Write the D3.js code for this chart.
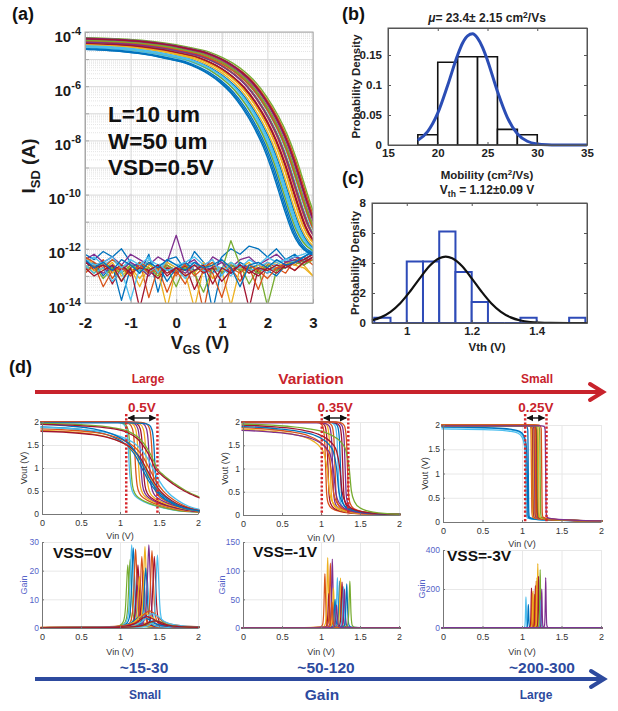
<!DOCTYPE html>
<html>
<head>
<meta charset="utf-8">
<script src="https://cdn.jsdelivr.net/npm/d3@7"></script>
<style>
  body { margin: 0; background: #fff; }
  svg { display: block; }
</style>
</head>
<body>
<svg id="fig" width="618" height="711"></svg>
<script>
// MATLAB default line colours
const colors = ["#0072BD", "#D95319", "#EDB120", "#7E2F8E", "#77AC30", "#4DBEEE", "#A2142F"];

// (a) transfer curves: shape of the middle of the bundle (VGS, log10 I), each device shifted
const idTemplate = [[-2.5,-4.4],[-2,-4.42],[-1.5,-4.45],[-1,-4.5],[-0.5,-4.6],[0,-4.75],[0.5,-4.95],[1,-5.35],[1.25,-5.65],[1.5,-6.05],[1.75,-6.6],[2,-7.3],[2.2,-8.0],[2.4,-8.9],[2.55,-9.7],[2.7,-10.5],[2.85,-11.2],[3,-11.65],[3.2,-11.95],[3.5,-12.1]];
const idShiftV   = [-0.27,0.22,-0.06,0.12,0.24,-0.18,0.06,-0.12,0.14,0.0,0.18,-0.22,0.1,-0.02,-0.3,0.02,-0.1,0.17,0.07,-0.14,0.19,-0.24,0.12,-0.05,0.05,0.14,-0.17,0.0];
const idShiftLog = [-0.2,0.15,0.0,0.1,0.2,-0.15,0.05,-0.1,0.12,-0.05,0.18,-0.1,0.08,0.0,-0.2,0.1,-0.05,0.14,0.02,-0.12,0.16,-0.18,0.06,-0.02,0.04,0.1,-0.08,0.0];

// (a) off-state noise floor, log10 I at these VGS
const noiseVgs = [-2,-1.8,-1.6,-1.4,-1.2,-1,-0.8,-0.6,-0.4,-0.2,0,0.2,0.4,0.6,0.8,1,1.2,1.4,1.6,1.8,2,2.2,2.4,2.6,2.8,3];
const noiseLog = [
  [-12.2,-12.4,-12.1,-12.3,-12.0,-12.5,-12.9,-12.2,-13.6,-12.4,-12.3,-12.8,-12.1,-12.5,-12.9,-12.3,-12.0,-12.2,-11.9,-12.0,-12.3,-12.0,-12.4,-12.2,-12.5,-12.1],
  [-12.5,-12.7,-12.4,-13.1,-12.6,-12.9,-12.5,-13.8,-12.7,-12.6,-13.0,-12.5,-12.8,-14.3,-12.6,-12.9,-12.7,-13.2,-12.6,-12.8,-12.5,-12.7,-12.9,-12.4,-12.3,-12.6],
  [-12.3,-12.6,-12.8,-12.5,-13.0,-12.7,-13.4,-12.6,-12.8,-14.2,-12.7,-12.6,-12.9,-12.5,-13.1,-12.8,-14.1,-12.7,-12.5,-12.9,-12.6,-12.5,-12.7,-12.4,-12.6,-13.0],
  [-12.4,-12.2,-12.5,-12.3,-12.6,-12.2,-12.4,-12.6,-12.3,-12.5,-11.5,-12.6,-12.4,-12.8,-12.3,-12.5,-12.7,-12.4,-12.3,-12.6,-12.4,-12.2,-12.5,-12.3,-12.4,-12.2],
  [-12.6,-12.9,-12.5,-12.7,-13.2,-12.6,-12.8,-12.5,-12.9,-12.7,-13.4,-12.6,-12.8,-12.7,-12.5,-12.8,-11.7,-12.6,-13.3,-12.7,-14.1,-12.8,-12.6,-12.4,-12.5,-12.3],
  [-12.5,-12.3,-12.6,-12.4,-12.7,-12.5,-12.8,-12.4,-12.6,-12.5,-12.7,-12.6,-12.5,-12.8,-12.6,-12.7,-12.5,-12.8,-12.6,-12.7,-12.5,-12.6,-12.4,-12.5,-12.3,-12.0],
  [-12.4,-12.8,-12.6,-13.3,-12.7,-12.9,-12.6,-12.8,-13.1,-12.7,-12.9,-12.6,-13.5,-12.8,-12.7,-12.9,-12.6,-12.8,-14.2,-12.7,-12.9,-12.6,-12.7,-12.5,-12.4,-12.2],
  [-12.7,-12.5,-13.0,-12.6,-13.9,-12.7,-12.5,-12.9,-12.6,-13.2,-12.7,-12.5,-12.8,-12.6,-14.3,-12.7,-12.9,-12.5,-12.7,-12.6,-12.8,-13.0,-12.6,-12.5,-12.3,-12.1],
  [-12.3,-12.5,-12.7,-12.4,-12.6,-13.0,-12.5,-12.7,-12.9,-12.6,-12.8,-13.3,-12.6,-12.7,-12.5,-12.9,-12.6,-12.8,-12.7,-13.5,-12.6,-12.8,-12.5,-12.6,-12.4,-12.2],
  [-12.6,-12.8,-12.5,-12.9,-12.6,-12.7,-13.1,-12.6,-12.8,-12.5,-12.7,-12.9,-14.2,-12.7,-12.6,-12.8,-12.5,-12.7,-12.9,-12.6,-12.8,-12.7,-12.5,-12.6,-12.7,-13.0],
  [-12.5,-12.7,-12.9,-12.6,-12.8,-12.5,-12.7,-13.0,-12.6,-12.8,-12.7,-12.9,-12.6,-12.8,-12.7,-12.5,-12.9,-12.6,-12.7,-12.9,-12.6,-12.8,-12.5,-12.4,-12.6,-12.3],
  [-12.8,-12.6,-13.1,-12.7,-12.9,-12.6,-12.8,-12.7,-13.0,-12.6,-12.8,-12.7,-12.9,-13.6,-12.7,-12.9,-12.6,-12.8,-12.7,-12.9,-12.6,-12.8,-12.7,-12.5,-12.6,-12.4],
  [-12.6,-12.9,-12.7,-13.2,-12.8,-13.9,-12.7,-12.9,-12.6,-12.8,-12.7,-13.1,-12.6,-12.8,-12.9,-12.7,-13.0,-12.6,-12.8,-12.7,-12.9,-12.6,-12.7,-12.5,-12.4,-12.2],
  [-12.5,-12.7,-12.6,-12.8,-12.6,-12.9,-12.7,-12.8,-12.6,-13.0,-12.7,-12.8,-12.6,-12.9,-12.7,-13.2,-12.8,-12.6,-12.9,-12.7,-12.8,-12.6,-12.7,-12.5,-12.4,-12.2],
  [-12.9,-12.6,-13.4,-12.8,-12.7,-13.0,-12.6,-12.9,-12.7,-13.6,-12.8,-12.6,-13.0,-12.7,-12.9,-13.8,-12.7,-12.9,-12.6,-12.8,-13.1,-12.7,-12.6,-12.8,-12.5,-12.4],
  [-12.4,-12.6,-12.5,-12.3,-12.7,-12.4,-12.6,-12.3,-12.9,-12.4,-12.6,-12.5,-12.3,-12.6,-12.4,-13.0,-12.5,-12.7,-12.4,-12.6,-12.3,-12.5,-12.4,-12.3,-12.2,-12.0],
  [-12.7,-13.0,-12.8,-12.6,-13.2,-12.7,-14.2,-12.8,-12.6,-12.9,-12.7,-13.0,-12.8,-12.6,-13.3,-12.7,-12.9,-12.6,-12.8,-13.0,-12.7,-12.9,-12.6,-12.8,-12.5,-12.3],
  [-12.4,-12.7,-12.5,-12.8,-12.4,-12.6,-12.9,-12.5,-12.7,-12.4,-12.6,-12.8,-12.5,-12.7,-12.6,-12.4,-12.7,-13.4,-12.6,-12.5,-12.7,-12.4,-12.6,-12.5,-12.3,-12.1]
];
const noiseColor = [0,1,2,3,4,5,6,0,1,2,3,4,5,6,1,5,6,0];

// (b) mobility histogram + fit
const mobBinEdges = [18,20,22,24,26,28,30];
const mobDensity = [0.017,0.138,0.147,0.147,0.026,0.017];
const mobFitX = [18,19,20,21,22,22.5,23,23.5,24,24.5,25,26,27,28,29,30,31,32,35];
const mobFitY = [0.0079,0.0228,0.0531,0.0995,0.150,0.170,0.182,0.1853,0.178,0.1627,0.141,0.0893,0.0457,0.0188,0.0062,0.0017,0.0004,0.0001,0];

// (c) threshold histogram + fit
const vthBinEdges = [0.9,0.95,1.0,1.05,1.1,1.15,1.2,1.25,1.3,1.35,1.4,1.45,1.5,1.55];
const vthDensity = [0.35,0,4.1,4.1,6.1,3.4,1.4,0,0,0.35,0,0,0.35];
const vthFitX = [0.893,0.92,0.95,0.98,1.01,1.04,1.07,1.10,1.12,1.14,1.17,1.20,1.23,1.26,1.29,1.32,1.35,1.38,1.41,1.44,1.50,1.555];
const vthFitY = [0.18,0.375,0.744,1.32,2.10,2.98,3.80,4.32,4.43,4.32,3.80,2.98,2.10,1.32,0.744,0.375,0.169,0.068,0.025,0.008,0.0005,0];

// (d) inverter transfer shapes (Vin, Vout), their switching point and high level
const vtcShapes = [
  [[-1,2],[0.9,2],[1.1,1.99],[1.17,1.96],[1.21,1.85],[1.235,1.5],[1.25,1.0],[1.27,0.62],[1.3,0.45],[1.36,0.34],[1.45,0.26],[1.6,0.17],[1.8,0.09],[2.0,0.05],[3,0]],
  [[-1,1.92],[0,1.9],[0.4,1.87],[0.7,1.82],[0.9,1.75],[1.05,1.66],[1.15,1.57],[1.25,1.42],[1.32,1.26],[1.4,1.0],[1.48,0.74],[1.58,0.5],[1.72,0.3],[1.86,0.17],[2.0,0.1],[2.5,0.02],[3,0]],
  [[-1,1.98],[0,1.97],[0.5,1.94],[0.9,1.88],[1.1,1.8],[1.25,1.64],[1.35,1.42],[1.42,1.2],[1.47,1.0],[1.55,0.86],[1.7,0.66],[1.85,0.5],[2.0,0.38],[2.5,0.12],[3,0.03]],
  [[-1,2],[1.05,2],[1.12,1.98],[1.16,1.92],[1.185,1.65],[1.2,1.0],[1.213,0.45],[1.235,0.24],[1.28,0.14],[1.4,0.07],[1.6,0.03],[2,0.01],[3,0]],
  [[-1,1.92],[0,1.9],[0.4,1.86],[0.7,1.8],[0.9,1.72],[1.02,1.62],[1.1,1.5],[1.15,1.35],[1.19,1.0],[1.22,0.5],[1.26,0.28],[1.33,0.15],[1.5,0.06],[1.8,0.02],[3,0]],
  [[-1,2],[1.1,2],[1.13,1.99],[1.143,1.92],[1.15,1.0],[1.156,0.2],[1.165,0.1],[1.22,0.07],[1.5,0.04],[2,0.02],[3,0.01]],
  [[-1,1.95],[0,1.93],[0.6,1.91],[0.85,1.88],[0.95,1.84],[1.0,1.76],[1.03,1.6],[1.045,1.2],[1.05,0.6],[1.056,0.14],[1.07,0.08],[1.2,0.05],[1.5,0.035],[2,0.02],[3,0.01]]
];
const vtcShapeVm = [1.25,1.4,1.47,1.2,1.19,1.15,1.05];
const vtcShapeTop = [2,1.9,1.97,2,1.9,2,1.93];

// VSS = 0 V
const vtc0Shape = [0,0,0,0,0,0,0,0,0,0,1,1,1,1,1,1,2,2];
const vtc0Vm    = [1.12,1.14,1.2,1.24,1.27,1.3,1.34,1.38,1.42,1.45,1.28,1.33,1.38,1.42,1.35,1.3,1.47,1.45];
const vtc0Top   = [2,2,2,2,2,2,1.99,2,2,1.98,1.9,1.82,1.85,1.88,1.8,1.95,1.97,1.95];
const vtc0Color = [5,4,1,2,3,6,2,3,1,0,0,2,1,5,6,0,4,6];
// VSS = -1 V
const vtc1Shape = [3,3,3,3,3,3,3,3,3,3,4,4,4,4,4,4];
const vtc1Vm    = [1.06,1.09,1.12,1.15,1.18,1.22,1.25,1.28,1.31,1.34,1.08,1.13,1.16,1.2,1.24,1.36];
const vtc1Top   = [2,2,2,1.98,2,2,2,1.99,2,2,1.85,1.88,1.82,1.9,1.93,1.95];
const vtc1Color = [1,6,2,3,1,5,0,6,3,1,2,1,3,0,6,4];
// VSS = -3 V
const vtc2Shape = [6,6,6,5,5,5,5,5,5,5,5,5,5,5,5,5,5];
const vtc2Vm    = [1.05,1.06,1.07,1.08,1.12,1.13,1.14,1.15,1.16,1.17,1.18,1.19,1.2,1.21,1.23,1.25,1.3];
const vtc2Top   = [1.92,1.95,1.96,1.98,2,1.99,2,2,1.98,2,1.99,2,1.98,2,1.99,2,1.98];
const vtc2Color = [5,5,0,0,1,2,6,2,3,1,1,6,4,2,4,1,3];

// gain peak shapes (offset from peak, fraction of peak)
const gainShapes = [
  [[-2,0.004],[-0.4,0.008],[-0.15,0.02],[-0.08,0.06],[-0.05,0.13],[-0.03,0.32],[-0.015,0.68],[0,1],[0.015,0.68],[0.03,0.32],[0.05,0.13],[0.08,0.06],[0.15,0.03],[0.4,0.01],[2,0.004]],
  [[-2,0.02],[-0.6,0.06],[-0.3,0.15],[-0.15,0.4],[-0.07,0.8],[0,1],[0.07,0.8],[0.15,0.45],[0.3,0.2],[0.6,0.08],[2,0.03]],
  [[-2,0.002],[-0.3,0.004],[-0.06,0.015],[-0.03,0.06],[-0.015,0.3],[-0.007,0.7],[0,1],[0.007,0.7],[0.015,0.3],[0.03,0.06],[0.06,0.015],[0.3,0.004],[2,0.002]],
  [[-2,0.001],[-0.2,0.002],[-0.03,0.01],[-0.015,0.05],[-0.008,0.3],[-0.004,0.7],[0,1],[0.004,0.7],[0.008,0.3],[0.015,0.05],[0.03,0.01],[0.2,0.002],[2,0.001]]
];
const gain0Shape = [0,0,0,0,0,0,0,0,0,0,0,0,0,0,0,0,0,1,1,1,1,1,1,1];
const gain0Pos   = [1.10,1.13,1.15,1.17,1.20,1.22,1.23,1.25,1.28,1.30,1.32,1.33,1.35,1.37,1.41,1.44,1.48,1.28,1.33,1.38,1.42,1.35,1.47,1.45];
const gain0Peak  = [22,24,29,28,27.5,15,22,18,25,20,28.4,21,17,29,27,25,25.5,4,5,6,5,4,2.5,2.5];
const gain0Color = [4,4,5,0,1,3,6,2,1,6,2,0,5,3,1,6,5,0,2,1,5,6,4,6];
const gain1Shape = [2,2,2,2,2,2,2,2,2,2,2,2,2,2,2,2,2];
const gain1Pos   = [1.05,1.086,1.10,1.12,1.145,1.16,1.18,1.21,1.24,1.25,1.27,1.29,1.30,1.33,1.37,1.14,1.20];
const gain1Peak  = [95,123,60,113,120,70,50,88,82,87,80,72,68,77,82,45,40];
const gain1Color = [1,2,6,1,3,2,0,5,0,2,6,5,3,0,4,1,3];
const gain2Shape = [3,3,3,3,3,3,3,3,3,3,3,3,3,3,3];
const gain2Pos   = [1.05,1.08,1.12,1.13,1.14,1.16,1.17,1.18,1.19,1.20,1.21,1.23,1.24,1.25,1.30];
const gain2Peak  = [160,120,205,180,190,172,218,240,258,330,265,300,145,200,258];
const gain2Color = [5,0,6,1,2,1,6,1,2,2,6,4,5,3,3];

const vinTicks = [0,0.5,1,1.5,2];
const spreadLo = [1.08,1.01,1.04];
const spreadHi = [1.48,1.35,1.31];
const spreadText = ["0.5V","0.35V","0.25V"];
const vssText = ["VSS=0V","VSS=-1V","VSS=-3V"];

const FONT = "'Liberation Sans', Arial, Helvetica, sans-serif";
const red = "#C8232C", blue = "#2D4A9E";
const svg = d3.select("#fig").attr("font-family", FONT);
svg.append("rect").attr("width", 618).attr("height", 711).attr("fill", "#fff");

const defs = svg.append("defs");
defs.append("marker").attr("id", "tip").attr("viewBox", "0 0 10 10").attr("refX", 9).attr("refY", 5)
  .attr("markerWidth", 5).attr("markerHeight", 5).attr("orient", "auto-start-reverse")
  .append("path").attr("d", "M0,0L10,5L0,10Z").attr("fill", "#111");

let clipN = 0;
function clipTo(box, pad) {
  const id = "clip" + (clipN++);
  defs.append("clipPath").attr("id", id).append("rect")
    .attr("x", box.l - pad).attr("y", box.t - pad)
    .attr("width", box.r - box.l + 2 * pad).attr("height", box.b - box.t + 2 * pad);
  return `url(#${id})`;
}

function styleAxis(sel, stroke, size, weight, fill) {
  sel.attr("font-family", FONT);
  sel.select(".domain").attr("stroke", stroke);
  sel.selectAll(".tick line").attr("stroke", stroke);
  sel.selectAll(".tick text").attr("font-size", size).attr("font-weight", weight).attr("fill", fill);
}

function gridOnly(sel, color, dash) {
  sel.select(".domain").remove();
  sel.selectAll("line").attr("stroke", color).attr("stroke-dasharray", dash || null);
}

// ---------------- (a) ----------------
const aBox = { l: 85, r: 313, t: 32, b: 303 };
const xA = d3.scaleLinear().domain([-2, 3]).range([aBox.l, aBox.r]);
const yA = d3.scaleLog().domain([1e-14, 1e-4]).range([aBox.b, aBox.t]);
const gA = svg.append("g");
const minorA = [];
for (let e = -14; e < -4; e++) for (let m = 2; m <= 9; m++) minorA.push(m * 10 ** e);
const decades = d3.range(-14, -3).map(e => 10 ** e);

gA.append("g").attr("transform", `translate(${aBox.l},0)`)
  .call(d3.axisLeft(yA).tickValues(minorA).tickSize(-(aBox.r - aBox.l)).tickFormat(""))
  .call(s => gridOnly(s, "#e4e4e4", "1,1"));
gA.append("g").attr("transform", `translate(${aBox.l},0)`)
  .call(d3.axisLeft(yA).tickValues(decades).tickSize(-(aBox.r - aBox.l)).tickFormat(""))
  .call(s => gridOnly(s, "#d8d8d8"));
gA.append("g").attr("transform", `translate(0,${aBox.b})`)
  .call(d3.axisBottom(xA).ticks(5).tickSize(-(aBox.b - aBox.t)).tickFormat(""))
  .call(s => gridOnly(s, "#d8d8d8"));

const clipA = clipTo(aBox, 0);
const noiseLine = d3.line().x(d => xA(d[0])).y(d => yA(10 ** d[1]));
const lineA = d3.line().x(d => xA(d[0])).y(d => yA(10 ** d[1])).curve(d3.curveMonotoneX);
noiseLog.forEach((row, i) => {
  gA.append("path").attr("clip-path", clipA)
    .attr("d", noiseLine(row.map((v, j) => [noiseVgs[j], v])))
    .attr("fill", "none").attr("stroke", colors[noiseColor[i]]).attr("stroke-width", 1.3)
    .attr("stroke-linejoin", "round");
});
idShiftV.forEach((dv, i) => {
  gA.append("path").attr("clip-path", clipA)
    .attr("d", lineA(idTemplate.map(([v, l]) => [v + dv, l + idShiftLog[i]])))
    .attr("fill", "none").attr("stroke", colors[i % 7]).attr("stroke-width", 1.4);
});

gA.append("rect").attr("x", aBox.l).attr("y", aBox.t).attr("width", aBox.r - aBox.l).attr("height", aBox.b - aBox.t)
  .attr("fill", "none").attr("stroke", "#a8a8a8");
gA.append("g").attr("transform", `translate(0,${aBox.b})`)
  .call(d3.axisBottom(xA).ticks(5).tickSize(-4).tickSizeOuter(0).tickPadding(14).tickFormat(d => d))
  .call(s => styleAxis(s, "#a8a8a8", 15, "bold", "#1a1a1a"));
gA.append("g").attr("transform", `translate(${aBox.l},0)`)
  .call(d3.axisLeft(yA).tickValues(decades).tickSize(-4).tickSizeOuter(0).tickFormat(""))
  .call(s => styleAxis(s, "#a8a8a8", 15, "bold", "#1a1a1a"));
[-4, -6, -8, -10, -12, -14].forEach(e => {
  const t = gA.append("text").attr("x", aBox.l - 4).attr("y", yA(10 ** e) + 9.5)
    .attr("text-anchor", "end").attr("font-weight", "bold").attr("font-size", 15).attr("fill", "#1a1a1a");
  t.append("tspan").text("10");
  t.append("tspan").attr("dy", -7).attr("font-size", 11).text(e);
});
const ylabA = gA.append("text").attr("transform", `translate(35,166) rotate(-90)`)
  .attr("text-anchor", "middle").attr("font-weight", "bold").attr("font-size", 19).attr("fill", "#1a1a1a");
ylabA.append("tspan").text("I");
ylabA.append("tspan").attr("font-size", 13).attr("dy", 5).text("SD");
ylabA.append("tspan").attr("dy", -5).text(" (A)");
const xlabA = gA.append("text").attr("x", 200).attr("y", 349)
  .attr("text-anchor", "middle").attr("font-weight", "bold").attr("font-size", 18).attr("fill", "#1a1a1a");
xlabA.append("tspan").text("V");
xlabA.append("tspan").attr("font-size", 12).attr("dy", 5).text("GS");
xlabA.append("tspan").attr("dy", -5).text(" (V)");
["L=10 um", "W=50 um", "VSD=0.5V"].forEach((s, i) => {
  gA.append("text").attr("x", 108).attr("y", 122 + i * 26.5).attr("font-weight", "bold")
    .attr("font-size", 22.5).attr("fill", "#111").text(s);
});

// panel letters
[["(a)", 12, 20], ["(b)", 342, 20], ["(c)", 342, 184], ["(d)", 9, 373]].forEach(([s, x, y]) => {
  svg.append("text").attr("x", x).attr("y", y).attr("font-weight", "bold").attr("font-size", 18).attr("fill", "#111").text(s);
});

// boxed MATLAB axes for (b), (c)
function boxAxes(g, box, x, y, xt, yt) {
  g.append("rect").attr("x", box.l).attr("y", box.t).attr("width", box.r - box.l).attr("height", box.b - box.t)
    .attr("fill", "none").attr("stroke", "#555");
  g.append("g").attr("transform", `translate(0,${box.b})`)
    .call(d3.axisBottom(x).tickValues(xt).tickSize(-3).tickSizeOuter(0).tickPadding(4).tickFormat(d => d))
    .call(s => styleAxis(s, "#555", 11.5, "bold", "#222"));
  g.append("g").attr("transform", `translate(0,${box.t})`)
    .call(d3.axisTop(x).tickValues(xt).tickSize(-3).tickSizeOuter(0).tickFormat(""))
    .call(s => styleAxis(s, "#555", 11.5, "bold", "#222"));
  g.append("g").attr("transform", `translate(${box.l},0)`)
    .call(d3.axisLeft(y).tickValues(yt).tickSize(-3).tickSizeOuter(0).tickPadding(6).tickFormat(d => d))
    .call(s => styleAxis(s, "#555", 11.5, "bold", "#222"));
  g.append("g").attr("transform", `translate(${box.r},0)`)
    .call(d3.axisRight(y).tickValues(yt).tickSize(-3).tickSizeOuter(0).tickFormat(""))
    .call(s => styleAxis(s, "#555", 11.5, "bold", "#222"));
}

// ---------------- (b) ----------------
const bBox = { l: 388, r: 587, t: 28, b: 145 };
const xB = d3.scaleLinear().domain([15, 35]).range([bBox.l, bBox.r]);
const yB = d3.scaleLinear().domain([0, 0.195]).range([bBox.b, bBox.t]);
const gB = svg.append("g");
mobDensity.forEach((d, i) => {
  const x0 = xB(mobBinEdges[i]), x1 = xB(mobBinEdges[i + 1]);
  gB.append("path").attr("d", `M${x0},${yB(0)}V${yB(d)}H${x1}V${yB(0)}Z`)
    .attr("fill", "#fff").attr("stroke", "#111").attr("stroke-width", 1.6);
});
gB.append("path").attr("d", d3.line().x(d => xB(d[0])).y(d => yB(d[1])).curve(d3.curveMonotoneX)(mobFitX.map((v, i) => [v, mobFitY[i]])))
  .attr("fill", "none").attr("stroke", "#2B4DB5").attr("stroke-width", 3);
boxAxes(gB, bBox, xB, yB, [15, 20, 25, 30, 35], [0, 0.05, 0.1, 0.15]);
gB.append("text").attr("transform", `translate(360,${(bBox.t + bBox.b) / 2}) rotate(-90)`).attr("text-anchor", "middle")
  .attr("font-weight", "bold").attr("font-size", 11.5).attr("fill", "#222").text("Probability Density");
const tB = gB.append("text").attr("x", 487).attr("y", 22).attr("text-anchor", "middle")
  .attr("font-weight", "bold").attr("font-size", 12).attr("fill", "#222");
tB.append("tspan").attr("font-style", "italic").text("\u03bc");
tB.append("tspan").text("= 23.4\u00b1 2.15 cm");
tB.append("tspan").attr("dy", -4).attr("font-size", 8.5).text("2");
tB.append("tspan").attr("dy", 4).text("/Vs");
const xlabB = gB.append("text").attr("x", 487).attr("y", 179).attr("text-anchor", "middle")
  .attr("font-weight", "bold").attr("font-size", 11.5).attr("fill", "#222");
xlabB.append("tspan").text("Mobility (cm");
xlabB.append("tspan").attr("dy", -4).attr("font-size", 8).text("2");
xlabB.append("tspan").attr("dy", 4).text("/Vs)");

// ---------------- (c) ----------------
const cBox = { l: 372, r: 587, t: 203, b: 323 };
const xC = d3.scaleLinear().domain([0.893, 1.555]).range([cBox.l, cBox.r]);
const yC = d3.scaleLinear().domain([0, 8]).range([cBox.b, cBox.t]);
const gC = svg.append("g");
vthDensity.forEach((d, i) => {
  const x0 = xC(vthBinEdges[i]), x1 = xC(vthBinEdges[i + 1]);
  gC.append("path").attr("d", `M${x0},${yC(0)}V${yC(d)}H${x1}V${yC(0)}Z`)
    .attr("fill", "#fff").attr("stroke", "#2E4BB8").attr("stroke-width", 2);
});
gC.append("path").attr("d", d3.line().x(d => xC(d[0])).y(d => yC(d[1])).curve(d3.curveMonotoneX)(vthFitX.map((v, i) => [v, vthFitY[i]])))
  .attr("fill", "none").attr("stroke", "#111").attr("stroke-width", 2.2);
boxAxes(gC, cBox, xC, yC, [1, 1.2, 1.4], [0, 2, 4, 6, 8]);
gC.append("text").attr("transform", `translate(359,${(cBox.t + cBox.b) / 2}) rotate(-90)`).attr("text-anchor", "middle")
  .attr("font-weight", "bold").attr("font-size", 11.5).attr("fill", "#222").text("Probability Density");
const tC = gC.append("text").attr("x", 487).attr("y", 194).attr("text-anchor", "middle")
  .attr("font-weight", "bold").attr("font-size", 12).attr("fill", "#222");
tC.append("tspan").text("V");
tC.append("tspan").attr("dy", 3).attr("font-size", 8.5).text("th");
tC.append("tspan").attr("dy", -3).text(" = 1.12\u00b10.09 V");
gC.append("text").attr("x", 487).attr("y", 351).attr("text-anchor", "middle")
  .attr("font-weight", "bold").attr("font-size", 11.5).attr("fill", "#222").text("Vth (V)");

// ---------------- (d) ----------------
const gainColor = "#5563C8";
function smallPlot(box, yMax, yTicks, yLabel, yColor, xLabelY, yLabelGap) {
  const x = d3.scaleLinear().domain([0, 2]).range([box.l, box.r]);
  const y = d3.scaleLinear().domain([0, yMax]).range([box.b, box.t]);
  const g = svg.append("g");
  g.append("g").attr("transform", `translate(0,${box.b})`)
    .call(d3.axisBottom(x).tickValues(vinTicks).tickSize(-(box.b - box.t)).tickFormat(""))
    .call(s => gridOnly(s, "#e8e8e8"));
  g.append("g").attr("transform", `translate(${box.l},0)`)
    .call(d3.axisLeft(y).tickValues(yTicks).tickSize(-(box.r - box.l)).tickFormat(""))
    .call(s => gridOnly(s, "#e8e8e8"));
  const curves = g.append("g").attr("clip-path", clipTo(box, 1.5));
  g.append("g").attr("transform", `translate(0,${box.b})`)
    .call(d3.axisBottom(x).tickValues(vinTicks).tickSize(-2).tickSizeOuter(0).tickPadding(6).tickFormat(d => d))
    .call(s => styleAxis(s, "#777", 9, "normal", "#333"));
  g.append("g").attr("transform", `translate(${box.l},0)`)
    .call(d3.axisLeft(y).tickValues(yTicks).tickSize(-2).tickSizeOuter(0).tickPadding(3).tickFormat(d => d))
    .call(s => styleAxis(s, "#777", 8.5, "normal", yColor));
  g.append("text").attr("x", (box.l + box.r) / 2).attr("y", xLabelY).attr("text-anchor", "middle")
    .attr("font-size", 9).attr("fill", "#333").text("Vin (V)");
  g.append("text").attr("transform", `translate(${box.l - yLabelGap},${(box.t + box.b) / 2}) rotate(-90)`)
    .attr("text-anchor", "middle").attr("font-size", 9).attr("fill", yColor).text(yLabel);
  const line = d3.line().x(d => x(d[0])).y(d => y(d[1])).curve(d3.curveMonotoneX);
  return { x, y, g, curves, line };
}

function drawVtc(p, shape, vm, top, col) {
  shape.forEach((s, i) => {
    const dx = vm[i] - vtcShapeVm[s], k = top[i] / vtcShapeTop[s];
    p.curves.append("path").attr("d", p.line(vtcShapes[s].map(([a, b]) => [a + dx, b * k])))
      .attr("fill", "none").attr("stroke", colors[col[i]]).attr("stroke-width", 1.3);
  });
}
function drawGain(p, shape, pos, peak, col) {
  shape.forEach((s, i) => {
    p.curves.append("path").attr("d", p.line(gainShapes[s].map(([a, b]) => [pos[i] + a, peak[i] * b])))
      .attr("fill", "none").attr("stroke", colors[col[i]]).attr("stroke-width", 1.2);
  });
}

const vBoxes = [{ l: 42, r: 198, t: 422, b: 514 }, { l: 243, r: 399, t: 422, b: 515 }, { l: 443, r: 601, t: 425, b: 522 }];
const gBoxes = [{ l: 42, r: 198, t: 542, b: 628 }, { l: 243, r: 399, t: 542, b: 628 }, { l: 443, r: 601, t: 550, b: 628 }];
const vLabelY = [539, 541, 547];
const gainMax = [30, 150, 400];
const gainTicks = [[0, 10, 20, 30], [0, 50, 100, 150], [0, 200, 400]];
const gainLabelGap = [15, 18, 18];
const vtcSets = [[vtc0Shape, vtc0Vm, vtc0Top, vtc0Color], [vtc1Shape, vtc1Vm, vtc1Top, vtc1Color], [vtc2Shape, vtc2Vm, vtc2Top, vtc2Color]];
const gainSets = [[gain0Shape, gain0Pos, gain0Peak, gain0Color], [gain1Shape, gain1Pos, gain1Peak, gain1Color], [gain2Shape, gain2Pos, gain2Peak, gain2Color]];
const vssPos = [[53, 558], [253, 557], [447, 561]];

for (let k = 0; k < 3; k++) {
  const pv = smallPlot(vBoxes[k], 2, vinTicks, "Vout (V)", "#333", vLabelY[k], 15);
  drawVtc(pv, ...vtcSets[k]);
  const pg = smallPlot(gBoxes[k], gainMax[k], gainTicks[k], "Gain", gainColor, 655, gainLabelGap[k]);
  drawGain(pg, ...gainSets[k]);

  const x0 = pv.x(spreadLo[k]), x1 = pv.x(spreadHi[k]);
  [x0, x1].forEach(xx => {
    svg.append("line").attr("x1", xx).attr("x2", xx).attr("y1", 414).attr("y2", vBoxes[k].b)
      .attr("stroke", "#D6262B").attr("stroke-width", 2.5).attr("stroke-dasharray", "2.2,2");
  });
  svg.append("line").attr("x1", x0 + 2).attr("x2", x1 - 2).attr("y1", 418).attr("y2", 418)
    .attr("stroke", "#111").attr("stroke-width", 1.4)
    .attr("marker-start", "url(#tip)").attr("marker-end", "url(#tip)");
  svg.append("text").attr("x", (x0 + x1) / 2).attr("y", 412).attr("text-anchor", "middle")
    .attr("font-weight", "bold").attr("font-size", 13.5).attr("fill", red).text(spreadText[k]);
  svg.append("text").attr("x", vssPos[k][0]).attr("y", vssPos[k][1])
    .attr("font-weight", "bold").attr("font-size", 15.5).attr("fill", "#111").text(vssText[k]);
}

// big arrows
function bigArrow(y, x0, x1, color) {
  svg.append("line").attr("x1", x0).attr("x2", x1 - 2).attr("y1", y).attr("y2", y)
    .attr("stroke", color).attr("stroke-width", 4);
  svg.append("path").attr("d", `M${x1 - 13},${y - 8}L${x1},${y}L${x1 - 13},${y + 8}`)
    .attr("fill", "none").attr("stroke", color).attr("stroke-width", 4).attr("stroke-linecap", "round");
}
bigArrow(392, 35, 603, red);
bigArrow(679, 35, 604, blue);

[["Large", 148, 383, 12], ["Variation", 311, 384, 15.5], ["Small", 537, 383, 12]].forEach(([s, x, y, f]) => {
  svg.append("text").attr("x", x).attr("y", y).attr("text-anchor", "middle").attr("font-weight", "bold")
    .attr("font-size", f).attr("fill", red).text(s);
});
[["~15-30", 144, 673, 15.5], ["~50-120", 326, 673, 15.5], ["~200-300", 542, 673, 15.5],
 ["Small", 145, 699, 12], ["Gain", 322, 700, 15.5], ["Large", 536, 699, 12]].forEach(([s, x, y, f]) => {
  svg.append("text").attr("x", x).attr("y", y).attr("text-anchor", "middle").attr("font-weight", "bold")
    .attr("font-size", f).attr("fill", blue).text(s);
});
</script>
</body>
</html>
